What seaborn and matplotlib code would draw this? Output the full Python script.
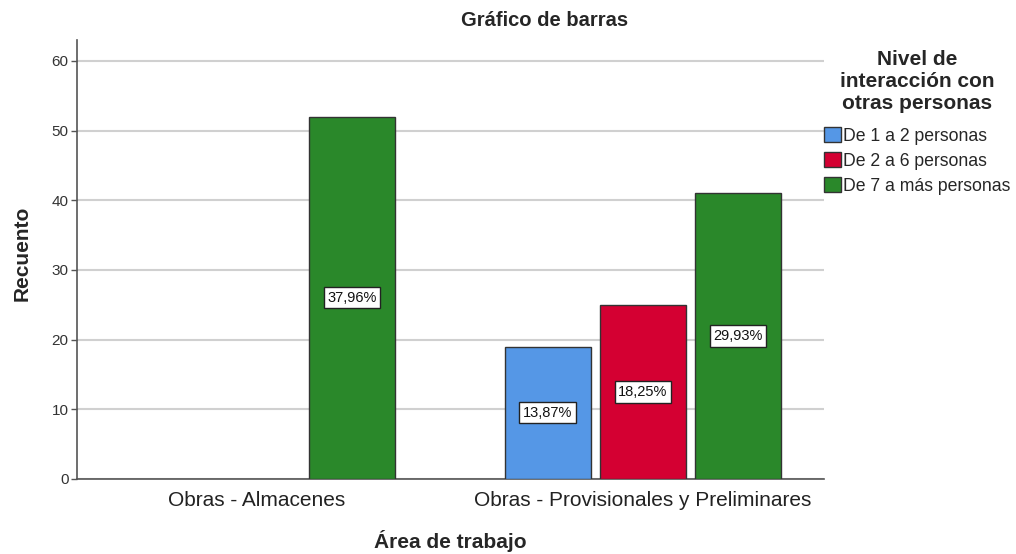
import numpy as np
import pandas as pd
import matplotlib
matplotlib.use('Agg')
import matplotlib.pyplot as plt
import seaborn as sns

# datos
areas = ['Obras - Almacenes', 'Obras - Provisionales y Preliminares']
niveles = ['De 1 a 2 personas', 'De 2 a 6 personas', 'De 7 a más personas']
area_col = ['Obras - Almacenes', 'Obras - Provisionales y Preliminares',
            'Obras - Provisionales y Preliminares', 'Obras - Provisionales y Preliminares']
nivel_col = ['De 7 a más personas', 'De 1 a 2 personas', 'De 2 a 6 personas', 'De 7 a más personas']
recuento = [52, 19, 25, 41]
colores = ['#5597E6', '#D40032', '#2A882A']

df = pd.DataFrame({'Area': area_col, 'Nivel': nivel_col, 'Recuento': recuento})
total = df['Recuento'].sum()

sns.set_style('white')
plt.rcParams['font.family'] = ['Liberation Sans', 'DejaVu Sans']

fig = plt.figure(figsize=(10.16, 5.54), dpi=100)
ax = fig.add_axes([0.0758, 0.1354, 0.7352, 0.7924])

sns.barplot(data=df, x='Area', y='Recuento', hue='Nivel', order=areas,
            hue_order=niveles, palette=colores, width=0.74, gap=0.095,
            edgecolor='#333333', linewidth=1.0, saturation=1, ax=ax, zorder=3)

for cont in ax.containers:
    vals = cont.datavalues
    labs = [f"{v / total * 100:.2f}%".replace('.', ',') for v in vals]
    ax.bar_label(cont, labels=labs, label_type='center', fontsize=10.5, color='#111111',
                 bbox=dict(boxstyle='square,pad=0.25', facecolor='white', edgecolor='#222222', linewidth=1))

ax.set_ylim(0, 63)
ax.set_xlim(-0.466, 1.469)
ax.set_yticks([0, 10, 20, 30, 40, 50, 60])
ax.yaxis.grid(True, color='#D0D0D0', linewidth=1.5, zorder=0)
ax.set_axisbelow(True)
for s in ['top', 'right']:
    ax.spines[s].set_visible(False)
for s in ['left', 'bottom']:
    ax.spines[s].set_color('#555555')
    ax.spines[s].set_linewidth(1.2)
ax.tick_params(axis='y', left=True, length=4, width=1, color='#555555', labelsize=11,
               labelcolor='#333333', pad=2)
ax.tick_params(axis='x', bottom=False, labelsize=15, labelcolor='#222222', pad=5)

ax.set_xlabel('Área de trabajo', fontsize=15, fontweight='bold')
ax.set_ylabel('Recuento', fontsize=15, fontweight='bold')
ax.xaxis.set_label_coords(0.5, (479 - 541) / 439)
ax.xaxis.label.set_va('center')
ax.yaxis.set_label_coords((22 - 77) / 747, (479 - 253) / 439)
ax.yaxis.label.set_va('center')
fig.text(545 / 1016, 1 - 20 / 554, 'Gráfico de barras', ha='center', va='center',
         fontsize=14.5, fontweight='bold')

handles, labels = ax.get_legend_handles_labels()
ax.get_legend().remove()
leg = ax.legend(handles, labels, title='Nivel de\ninteracción con\notras personas',
                loc='upper left', bbox_to_anchor=(824 / 1016, 1 - 50 / 554),
                bbox_transform=fig.transFigure, frameon=False, borderaxespad=0,
                borderpad=0, handlelength=0.95, handleheight=0.95, handletextpad=0.15,
                labelspacing=0.42, fontsize=12.7, alignment='center',
                title_fontproperties={'weight': 'bold', 'size': 15})
leg.get_title().set_linespacing(1.2)
leg.get_title().set_ha('center')
leg._legend_box.sep = 10

fig.savefig('out.png', dpi=100)
